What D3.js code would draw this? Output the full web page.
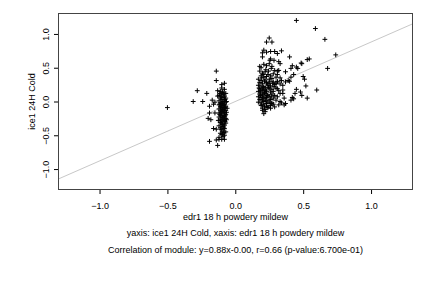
<!DOCTYPE html>
<html>
<head>
<meta charset="utf-8">
<script src="https://cdn.jsdelivr.net/npm/d3@7"></script>
<style>
  body { margin: 0; background: #fff; }
  svg { display: block; }
  text { font-family: "Liberation Sans", Arial, sans-serif; fill: #000; }
</style>
</head>
<body>
<svg width="432" height="288"></svg>
<script>
// scatter points, [x, y]
const stripPoints = [
  [-0.50,-0.09],[-0.31,0.00],[-0.28,0.16],[-0.24,0.00],[-0.21,0.12],[-0.17,0.02],[-0.16,-0.04],
  [-0.19,-0.07],[-0.19,-0.17],[-0.20,-0.25],[-0.18,-0.27],[-0.15,-0.17],[-0.16,-0.40],[-0.14,-0.41],
  [-0.19,-0.59],[-0.14,0.45],[-0.14,0.31],[-0.08,0.27],[-0.10,0.25],[-0.13,0.16],[-0.14,-0.57],
  [-0.12,-0.56],[-0.10,-0.56],[-0.08,-0.56],[-0.13,-0.65],[-0.15,-0.01],[-0.13,0.08],
  [-0.10,0.20],[-0.08,0.18],[-0.11,0.15],[-0.09,0.13],[-0.07,0.12],[-0.10,0.10],[-0.12,0.09],
  [-0.08,0.08],[-0.09,0.06],[-0.11,0.05],[-0.07,0.05],[-0.10,0.03],[-0.08,0.02],[-0.12,0.01],
  [-0.09,0.00],[-0.07,-0.01],[-0.11,-0.02],[-0.10,-0.03],[-0.08,-0.04],[-0.12,-0.05],[-0.09,-0.06],
  [-0.07,-0.07],[-0.11,-0.08],[-0.10,-0.09],[-0.08,-0.10],[-0.06,-0.10],[-0.12,-0.11],[-0.09,-0.12],
  [-0.11,-0.13],[-0.07,-0.13],[-0.10,-0.15],[-0.08,-0.16],[-0.12,-0.17],[-0.09,-0.18],[-0.07,-0.19],
  [-0.11,-0.20],[-0.10,-0.21],[-0.08,-0.22],[-0.12,-0.23],[-0.09,-0.24],[-0.07,-0.25],[-0.11,-0.26],
  [-0.10,-0.27],[-0.08,-0.28],[-0.09,-0.30],[-0.11,-0.31],[-0.07,-0.32],[-0.10,-0.33],[-0.08,-0.35],
  [-0.12,-0.36],[-0.09,-0.37],[-0.11,-0.39],[-0.08,-0.40],[-0.10,-0.42],[-0.09,-0.44],[-0.07,-0.45],
  [-0.11,-0.47],[-0.10,-0.49],[-0.08,-0.50],[-0.09,-0.52],[-0.12,-0.53],
  [-0.095,0.14],[-0.085,0.11],[-0.105,0.07],[-0.075,0.03],[-0.095,-0.02],[-0.085,-0.05],
  [-0.105,-0.07],[-0.075,-0.09],[-0.095,-0.11],[-0.085,-0.14],[-0.105,-0.16],[-0.115,-0.19],
  [-0.075,-0.21],[-0.095,-0.23],[-0.085,-0.26],[-0.105,-0.29],[-0.075,-0.30],[-0.095,-0.34],
  [-0.085,-0.38],[-0.105,-0.41],[-0.085,-0.46],[-0.095,-0.48],[-0.065,0.00],[-0.065,-0.16],
  [-0.065,-0.27],[-0.115,0.12],[-0.115,-0.04],[-0.125,-0.28]
];

const clusterPoints = [
  [0.45,1.20],[0.59,1.08],[0.66,0.92],[0.74,0.69],[0.68,0.49],[0.60,0.17],
  [0.25,0.94],[0.23,0.88],[0.27,0.88],[0.21,0.76],[0.23,0.73],[0.26,0.74],[0.29,0.74],[0.31,0.71],
  [0.34,0.75],[0.20,0.72],[0.20,0.66],[0.255,0.61],[0.285,0.61],[0.33,0.56],[0.40,0.66],[0.49,0.56],
  [0.545,0.63],[0.53,0.62],[0.26,0.63],[0.32,0.59],[0.18,0.52],[0.21,0.55],[0.25,0.56],[0.23,0.53],
  [0.27,0.52],[0.31,0.45],[0.32,0.46],[0.37,0.44],[0.41,0.49],[0.42,0.53],[0.45,0.51],[0.46,0.49],
  [0.485,0.57],[0.43,0.40],[0.41,0.36],[0.39,0.31],[0.40,0.30],[0.37,0.29],[0.35,0.24],[0.50,0.37],
  [0.51,0.33],[0.52,0.23],[0.45,0.18],[0.48,0.14],[0.44,0.12],[0.43,0.04],[0.53,0.05],[0.49,0.09],
  [0.42,0.06],[0.41,0.02],[0.37,-0.03],[0.36,-0.05],[0.35,0.17],[0.31,0.19],[0.31,0.29],[0.30,0.27],
  [0.18,0.45],[0.20,0.42],[0.22,0.44],[0.24,0.40],[0.19,0.38],[0.21,0.36],[0.23,0.37],[0.26,0.38],
  [0.28,0.41],[0.17,0.33],[0.19,0.31],[0.22,0.32],[0.25,0.33],[0.27,0.34],[0.30,0.36],[0.18,0.28],
  [0.20,0.27],[0.23,0.28],[0.25,0.27],[0.28,0.29],[0.31,0.30],[0.17,0.24],[0.19,0.23],[0.21,0.22],
  [0.24,0.24],[0.26,0.23],[0.29,0.25],[0.33,0.26],[0.18,0.19],[0.20,0.18],[0.22,0.20],[0.25,0.19],
  [0.27,0.18],[0.30,0.20],[0.17,0.15],[0.19,0.14],[0.21,0.16],[0.23,0.15],[0.26,0.14],[0.28,0.15],
  [0.32,0.16],[0.18,0.11],[0.20,0.10],[0.22,0.12],[0.24,0.10],[0.27,0.11],[0.29,0.09],[0.17,0.07],
  [0.19,0.06],[0.21,0.08],[0.23,0.06],[0.25,0.07],[0.28,0.05],[0.31,0.07],[0.18,0.03],[0.20,0.02],
  [0.22,0.04],[0.24,0.01],[0.26,0.03],[0.30,0.02],[0.17,-0.01],[0.19,-0.02],[0.21,0.00],[0.23,-0.03],
  [0.25,-0.01],[0.27,-0.02],[0.19,-0.06],[0.21,-0.05],[0.23,-0.07],[0.26,-0.06],[0.28,-0.04],
  [0.20,-0.10],[0.22,-0.12],[0.24,-0.09],[0.20,-0.13],[0.21,-0.18],[0.22,-0.15],[0.24,-0.08],
  [0.26,-0.10],[0.29,-0.08],[0.32,-0.05],[0.34,-0.02],
  [0.195,0.35],[0.215,0.30],[0.235,0.26],[0.205,0.21],[0.225,0.17],[0.215,0.13],[0.235,0.09],
  [0.205,0.05],[0.225,0.01],[0.185,0.09],[0.245,0.21],[0.255,0.30],[0.265,0.08],[0.185,0.16],
  [0.195,-0.04],[0.215,-0.08],[0.175,0.20],[0.265,-0.03],[0.285,0.22],[0.275,0.27],[0.205,0.40],
  [0.225,0.47],[0.245,0.45],[0.265,0.49],[0.19,0.50],[0.29,0.46],[0.31,0.40],[0.33,0.35],
  [0.34,0.31],[0.35,0.12],[0.33,0.12],[0.36,0.05],[0.33,0.00]
];

const xTicks = [-1.0, -0.5, 0.0, 0.5, 1.0];
const yTicks = [-1.0, -0.5, 0.0, 0.5, 1.0];
const fitSlope = 0.88, fitIntercept = 0.0;

const xLabel = "edr1 18  h powdery mildew";
const yLabel = "ice1 24H Cold";
const subTitle = "yaxis: ice1 24H Cold, xaxis: edr1 18  h powdery mildew";
const corrTitle = "Correlation of module: y=0.88x-0.00, r=0.66 (p-value:6.700e-01)";

const svg = d3.select("svg");
const plotL = 58, plotR = 413, plotT = 13, plotB = 190;

const x = d3.scaleLinear().domain([-1.306, 1.309]).range([plotL, plotR]);
const y = d3.scaleLinear().domain([-1.31, 1.31]).range([plotB, plotT]);

svg.append("clipPath").attr("id", "plotclip")
  .append("rect").attr("x", plotL).attr("y", plotT)
  .attr("width", plotR - plotL).attr("height", plotB - plotT);

// regression line
const xd = x.domain();
svg.append("line")
  .attr("clip-path", "url(#plotclip)")
  .attr("x1", x(xd[0])).attr("y1", y(fitSlope * xd[0] + fitIntercept))
  .attr("x2", x(xd[1])).attr("y2", y(fitSlope * xd[1] + fitIntercept))
  .attr("stroke", "#c8c8c8").attr("stroke-width", 1);

// points as "+"
const allPoints = stripPoints.concat(clusterPoints);
const s = 2.4;
svg.append("g")
  .selectAll("path")
  .data(allPoints)
  .enter()
  .append("path")
  .attr("d", (d) => {
    const px = x(d[0]), py = y(d[1]);
    return `M${px - s},${py}H${px + s}M${px},${py - s}V${py + s}`;
  })
  .attr("stroke", "#000")
  .attr("stroke-width", 1)
  .attr("fill", "none");

// frame
svg.append("rect")
  .attr("x", plotL + 0.5).attr("y", plotT + 0.5)
  .attr("width", plotR - plotL - 1).attr("height", plotB - plotT - 1)
  .attr("fill", "none").attr("stroke", "#444").attr("stroke-width", 1);

// x axis
const xAxis = svg.append("g").attr("transform", `translate(0,${plotB})`)
  .call(d3.axisBottom(x).tickValues(xTicks).tickFormat(d3.format(".1f")).tickSize(4).tickSizeOuter(0));
xAxis.select(".domain").remove();
xAxis.selectAll("line").attr("stroke", "#000");
xAxis.selectAll("text")
  .attr("font-family", "Liberation Sans, Arial, sans-serif")
  .attr("font-size", 9).attr("y", 13).attr("dy", "0.71em");

// y axis with rotated labels
const yAxis = svg.append("g").attr("transform", `translate(${plotL},0)`)
  .call(d3.axisLeft(y).tickValues(yTicks).tickFormat(d3.format(".1f")).tickSize(4).tickSizeOuter(0));
yAxis.select(".domain").remove();
yAxis.selectAll("line").attr("stroke", "#000");
yAxis.selectAll("text")
  .attr("font-family", "Liberation Sans, Arial, sans-serif")
  .attr("font-size", 9)
  .attr("x", null).attr("dy", null)
  .attr("text-anchor", "middle")
  .attr("transform", "translate(-9,0) rotate(-90)");

const cx = (plotL + plotR) / 2;
svg.append("text").attr("x", cx).attr("y", 220)
  .attr("text-anchor", "middle").attr("font-size", 9).text(xLabel);
svg.append("text").attr("transform", `translate(35,${(plotT + plotB) / 2}) rotate(-90)`)
  .attr("text-anchor", "middle").attr("font-size", 9).text(yLabel);
svg.append("text").attr("x", cx).attr("y", 236)
  .attr("text-anchor", "middle").attr("font-size", 9).text(subTitle);
svg.append("text").attr("x", cx).attr("y", 253)
  .attr("text-anchor", "middle").attr("font-size", 9).text(corrTitle);
</script>
</body>
</html>
